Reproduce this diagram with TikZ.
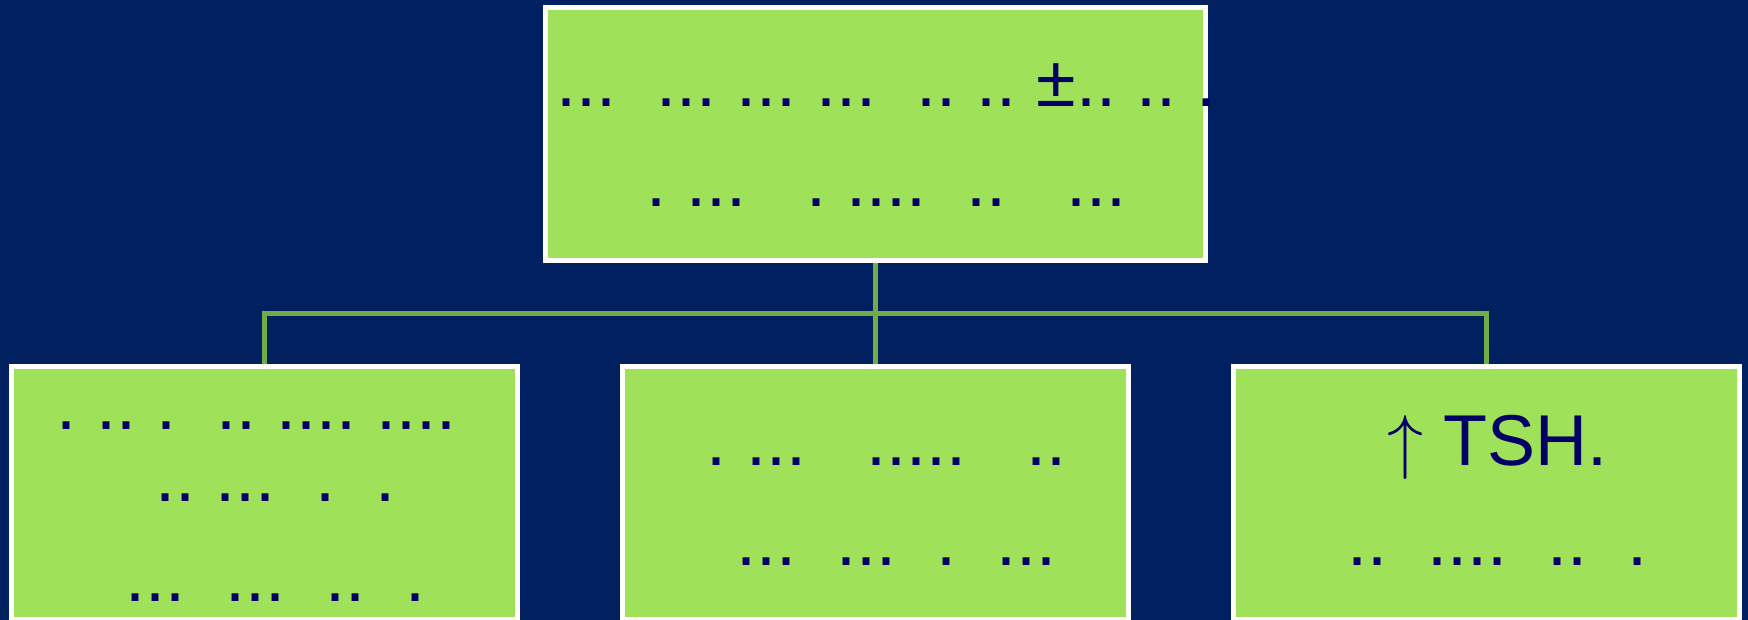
\documentclass[tikz,border=0pt]{standalone}
\usepackage{fix-cm}
\usepackage{fontspec}
\setmainfont{Liberation Sans}
\usetikzlibrary{calc,positioning}
\definecolor{NavyBack}{RGB}{0,32,96}
\definecolor{LeafGreen}{RGB}{160,225,90}
\definecolor{LinkGreen}{RGB}{112,173,71}
\definecolor{InkBlue}{RGB}{0,0,102}
\newcommand{\rowstrut}{\rule[-13.8pt]{0pt}{50pt}\hspace*{11pt}}

\begin{document}
\begin{tikzpicture}[
every node/.style={
        font=\fontsize{36}{50}\selectfont, text=InkBlue
    },
node distance = 50.5pt and 50pt,
    Box/.style = {rectangle, draw=white, line width=2.5pt, fill=LeafGreen,
                  inner sep=0pt, align=center,
                  minimum width=#1, minimum height=126.5pt},
    Box/.default = 253pt,
    link/.style = {draw=LinkGreen, line width=2.8pt}% style for the tree lines
    ]
\useasboundingbox (0,0) rectangle (874pt,-310pt);
\fill[NavyBack] (0,0) rectangle (874pt,-310pt);
\node (Head)     [Box=330pt] at (437.75pt,-67pt)
        {\rowstrut\makebox[0pt]{...~~...~...~...~~..~..~±..~..~.}\\
         \rowstrut.~...~~~.~....~~..~~~...};
\node (MidBox)   [Box, below=of Head]
        {\rowstrut.~...~~~.....~~~..\\
         \rowstrut\hspace*{10pt}...~~...~~.~~...};
\node (LeftBox)  [Box, left=of MidBox]
        {\rule[-13.8pt]{0pt}{44pt}\hspace*{-8pt}.~..~.~~..~....~....\\[-14pt]
         \rowstrut..~...~~.~~.\\
         \rule[-7.8pt]{0pt}{44pt}\hspace*{11pt}...~~...~~..~~.};
\node (RightBox) [Box, right=of MidBox]
        {\rowstrut$\uparrow$ TSH.\\
         \rowstrut..~~....~~..~~.};

\coordinate (Fork) at ($(Head.south)!.5!(MidBox.north)$);
\path[link]
    (Head.south)    -- (MidBox.north)
    (LeftBox.north) |- (Fork) -| (RightBox.north);
\end{tikzpicture}
\end{document}
